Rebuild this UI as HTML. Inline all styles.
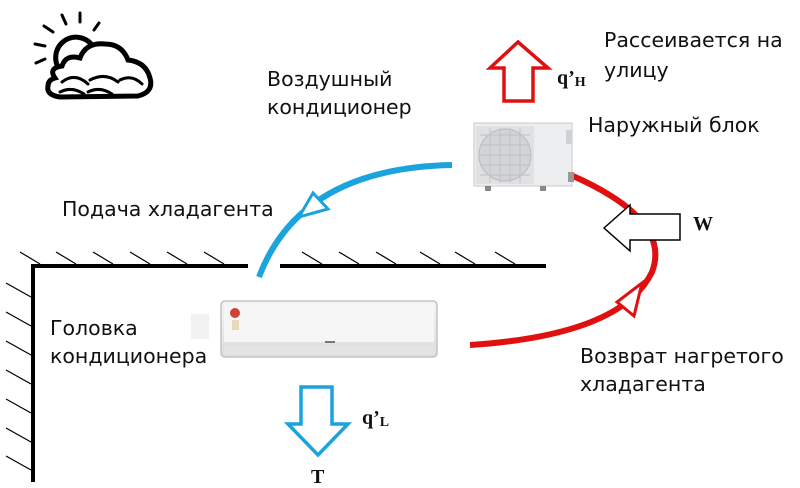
<!DOCTYPE html>
<html><head><meta charset="utf-8"><style>
html,body{margin:0;padding:0;background:#fff;}
svg{display:block;}
.t{font-family:"DejaVu Sans",sans-serif;font-size:20.5px;fill:#111;}
.s{font-family:"Liberation Serif",serif;font-weight:bold;fill:#111;}
</style></head><body>
<svg width="800" height="488" viewBox="0 0 800 488" xmlns="http://www.w3.org/2000/svg">
<defs>
<linearGradient id="g1" x1="0" y1="0" x2="0" y2="1"><stop offset="0" stop-color="#f4f4f4"/><stop offset="1" stop-color="#dcdcdc"/></linearGradient>
</defs>
<!-- sun & cloud -->
<g stroke="#000" fill="none" stroke-linecap="round">
<g stroke-width="3">
<line x1="44" y1="26" x2="53" y2="32"/><line x1="62" y1="15" x2="66" y2="24"/><line x1="80" y1="13" x2="80" y2="22"/><line x1="99" y1="23" x2="94" y2="30"/>
<line x1="35" y1="44" x2="45" y2="46"/><line x1="36" y1="63" x2="45" y2="59"/>
</g>
<path d="M60,70 A20,20 0 1 1 92,45" stroke-width="5"/>
<path d="M55,78 Q48,68 62,66 Q66,54 80,58 Q86,42 105,44 Q122,44 128,60 Q146,62 150,78 Q154,92 138,96 L60,97 Q46,95 48,86 Q48,80 55,78 Z" fill="#fff" stroke-width="5"/>
<path d="M62,82 Q75,72 88,84 M90,80 Q105,72 118,82 M120,80 Q132,74 142,84 M60,92 Q72,86 84,94 M88,92 Q100,86 112,94" stroke-width="3"/>
</g>
<!-- walls -->
<g stroke="#000">
<path d="M33,482 L33,266 L248,266 M280,266 L546,266" stroke-width="4" fill="none"/>
<g stroke-width="1.2">
<line x1="40" y1="264" x2="20" y2="252"/><line x1="76" y1="264" x2="56" y2="252"/><line x1="113" y1="264" x2="93" y2="252"/><line x1="150" y1="264" x2="130" y2="252"/><line x1="187" y1="264" x2="167" y2="252"/><line x1="224" y1="264" x2="204" y2="252"/>
<line x1="322" y1="264" x2="302" y2="252"/><line x1="359" y1="264" x2="339" y2="252"/><line x1="396" y1="264" x2="376" y2="252"/><line x1="440" y1="264" x2="420" y2="252"/><line x1="475" y1="264" x2="455" y2="252"/><line x1="515" y1="264" x2="495" y2="252"/>
<line x1="31" y1="297" x2="6" y2="283"/><line x1="31" y1="326" x2="6" y2="312"/><line x1="31" y1="355" x2="6" y2="341"/><line x1="31" y1="384" x2="6" y2="370"/><line x1="31" y1="413" x2="6" y2="399"/><line x1="31" y1="442" x2="6" y2="428"/><line x1="31" y1="470" x2="6" y2="456"/>
</g>
</g>
<!-- blue arc -->
<path d="M259,277 Q300,168 452,165" stroke="#1aa3dc" stroke-width="6" fill="none"/>
<polygon points="299,217 313,193 328,209" fill="#fff" stroke="#1aa3dc" stroke-width="3"/>
<!-- red arc -->
<path d="M573,176 Q672,220 652,272 Q622,335 470,345" stroke="#e01010" stroke-width="6" fill="none"/>
<polygon points="617,302 634,316 642,283" fill="#fff" stroke="#e01010" stroke-width="3"/>
<!-- W arrow -->
<polygon points="604,228 630,205 630,214 680,214 680,240 630,240 630,251" fill="#fff" stroke="#000" stroke-width="1.5"/>
<text class="s" x="693" y="230" font-size="20">W</text>
<!-- red up arrow -->
<polygon points="518,42 548,68 533,68 533,101 504,101 504,68 490,68" fill="#fff" stroke="#e01010" stroke-width="3.5"/>
<text class="s" x="557" y="84" font-size="20">q’<tspan font-size="14" dy="2">H</tspan></text>
<!-- blue down arrow -->
<polygon points="301,387 332,387 332,424 348,424 318,455 288,424 301,424" fill="#fff" stroke="#1aa3dc" stroke-width="3.5"/>
<text class="s" x="362" y="424" font-size="20">q’<tspan font-size="14" dy="2">L</tspan></text>
<text class="s" x="311" y="483" font-size="20">T</text>
<!-- outdoor unit -->
<g>
<rect x="474" y="123" width="98" height="63" fill="#eceef0" stroke="#c8cacc"/>
<rect x="476" y="126" width="58" height="58" fill="#dfe1e3"/>
<circle cx="505" cy="155" r="26" fill="#d2d4d6" stroke="#b8babc"/>
<g stroke="#bfc1c3" stroke-width="1">
<line x1="480" y1="135" x2="530" y2="135"/><line x1="480" y1="145" x2="530" y2="145"/><line x1="480" y1="155" x2="530" y2="155"/><line x1="480" y1="165" x2="530" y2="165"/><line x1="480" y1="175" x2="530" y2="175"/>
<line x1="490" y1="128" x2="490" y2="183"/><line x1="500" y1="128" x2="500" y2="183"/><line x1="510" y1="128" x2="510" y2="183"/><line x1="520" y1="128" x2="520" y2="183"/>
</g>
<rect x="566" y="130" width="6" height="14" fill="#cfd1d3"/>
<rect x="568" y="172" width="6" height="10" fill="#999"/>
<rect x="485" y="186" width="6" height="5" fill="#888"/><rect x="540" y="186" width="6" height="5" fill="#888"/>
</g>
<!-- indoor unit -->
<g>
<rect x="191" y="314" width="18" height="25" fill="#f2f2f2"/>
<rect x="221" y="301" width="216" height="56" rx="4" fill="url(#g1)" stroke="#c4c4c4" stroke-width="1.5"/>
<rect x="224" y="304" width="210" height="38" fill="#f6f6f6"/>
<rect x="224" y="346" width="210" height="9" fill="#e4e4e4"/>
<circle cx="235" cy="313" r="5" fill="#c43"/>
<rect x="232" y="320" width="7" height="10" fill="#e8d9b8"/>
<rect x="325" y="341" width="10" height="2" fill="#777"/>
</g>
<!-- text -->
<text class="t" x="267" y="86">Воздушный</text>
<text class="t" x="267" y="114">кондиционер</text>
<text class="t" x="62" y="216">Подача хладагента</text>
<text class="t" x="604" y="47">Рассеивается на</text>
<text class="t" x="604" y="77">улицу</text>
<text class="t" x="588" y="132">Наружный блок</text>
<text class="t" x="50" y="335">Головка</text>
<text class="t" x="50" y="363">кондиционера</text>
<text class="t" x="580" y="363">Возврат нагретого</text>
<text class="t" x="580" y="391">хладагента</text>
</svg>
</body></html>
